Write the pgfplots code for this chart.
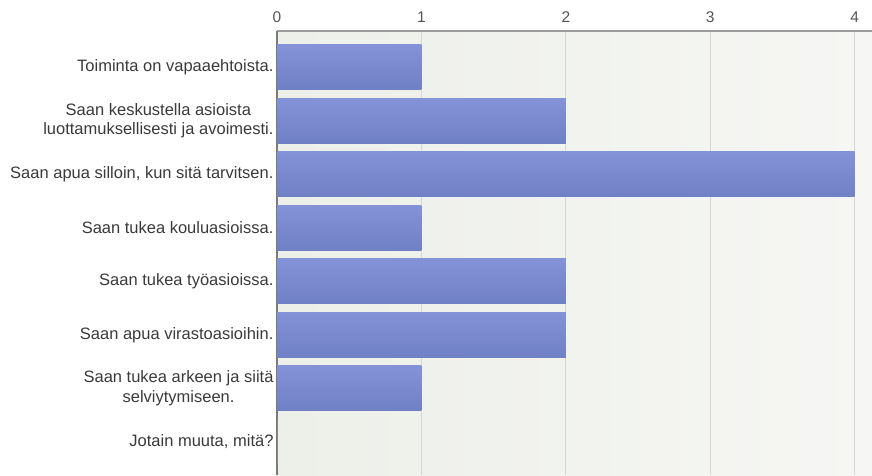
\documentclass[border=0pt]{standalone}
\usepackage{fontspec}
\setmainfont{Liberation Sans}
\usepackage{pgfplots}
\pgfplotsset{compat=1.18}
\definecolor{barTop}{HTML}{8492D8}
\definecolor{barBottom}{HTML}{7080C4}
\definecolor{bgLeft}{HTML}{EDEFE9}
\definecolor{bgRight}{HTML}{F6F7F4}
\definecolor{gridgray}{HTML}{D6D7D2}
\definecolor{topline}{HTML}{9C9C9C}
\definecolor{leftline}{HTML}{7A7A7A}
\definecolor{labeltext}{HTML}{3A3A3A}
\definecolor{ticktext}{HTML}{555555}
\begin{document}
\begin{tikzpicture}
\useasboundingbox (0,0) rectangle (872pt,475pt);
\begin{axis}[
  at={(277pt,0pt)}, anchor=south west,
  scale only axis, width=595pt, height=444pt,
  xbar, bar width=45pt, bar shift=0pt,
  xmin=0, xmax=4.12, ymin=-0.62, ymax=7.68,
  axis x line*=top, axis y line*=left,
  x axis line style={draw=topline, line width=1.2pt},
  y axis line style={draw=leftline, line width=1.5pt},
  xtick={0,1,2,3,4}, ytick={0,...,7},
  yticklabels={Jotain muuta{,} mitä?,
    {Saan tukea arkeen ja siitä\\selviytymiseen.},
    Saan apua virastoasioihin.,
    Saan tukea työasioissa.,
    Saan tukea kouluasioissa.,
    Saan apua silloin{,} kun sitä tarvitsen.,
    {Saan keskustella asioista\\luottamuksellisesti ja avoimesti.},
    Toiminta on vapaaehtoista.},
  major tick length=0pt,
  xmajorgrids, grid style={draw=gridgray, line width=0.9pt},
  axis background/.style={left color=bgLeft, right color=bgRight},
  /pgf/number format/assume math mode=true,
  yticklabel style={align=center, text=labeltext,
    font=\fontsize{16.5}{19.5}\selectfont},
  xticklabel style={text=ticktext, yshift=5pt,
    font=\fontsize{15.5}{18}\selectfont},
  every axis plot/.append style={draw=none, top color=barTop, bottom color=barBottom},
]
\addplot coordinates {(1,7)};
\addplot coordinates {(2,6)};
\addplot coordinates {(4,5)};
\addplot coordinates {(1,4)};
\addplot coordinates {(2,3)};
\addplot coordinates {(2,2)};
\addplot coordinates {(1,1)};
\addplot coordinates {(0,0)};
\end{axis}
\end{tikzpicture}
\end{document}
